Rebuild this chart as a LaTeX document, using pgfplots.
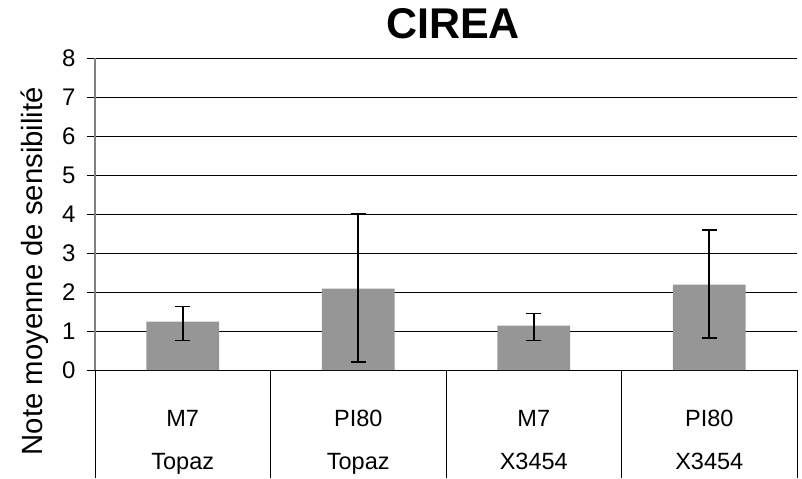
\documentclass[border=0pt]{standalone}
\usepackage{pgfplots}
\pgfplotsset{compat=1.18}
\usepackage{pgfplotstable}
\usepackage{fontspec}
\setmainfont{Liberation Sans}
\definecolor{bargray}{RGB}{150,150,150}
\pgfplotstableread{
x y ep em
0 1.24 0.39 0.48
1 2.09 1.91 1.89
2 1.14 0.31 0.38
3 2.19 1.40 1.37
}\datatable
\begin{document}
\begin{tikzpicture}
\begin{axis}[
  scale only axis,
  width=702pt, height=312pt,
  xmin=-0.5, xmax=3.5, ymin=0, ymax=8,
  ytick={0,...,8},
  /pgf/number format/assume math mode=true,
  ticklabel style={font=\fontsize{24}{28}\selectfont},
  yticklabel style={xshift=-8pt},
  ymajorgrids,
  grid style={black, line width=0.8pt},
  axis x line*=bottom, axis y line*=left,
  x axis line style={black, line width=1pt, -},
  y axis line style={gray, line width=1.2pt, -},
  ytick style={black, line width=0.8pt},
  tick align=outside,
  major tick length=8pt,
  xtick={0,1,2,3},
  xtick style={draw=none},
  xticklabels={{M7\\Topaz},{PI80\\Topaz},{M7\\X3454},{PI80\\X3454}},
  xticklabel style={align=center, font=\fontsize{23.5}{43}\selectfont, yshift=-29pt},
  extra x ticks={-0.5,0.5,1.5,2.5,3.5},
  extra x tick labels={},
  extra x tick style={xtick style={draw=black, line width=0.8pt}, major tick length=108pt, tick align=outside},
  title={\bfseries CIREA},
  title style={font=\fontsize{43}{48}\selectfont\bfseries, at={(axis description cs:0.51,1.09)}, anchor=center},
  ylabel={Note moyenne de sensibilité},
  ylabel style={font=\fontsize{29.3}{34}\selectfont, at={(axis description cs:-0.0855,0.317)}, anchor=center},
  clip=false,
]
\addplot[ybar, bar width=72.7pt, fill=bargray, draw=none,
  error bars/.cd, y dir=both, y explicit,
  error bar style={black, line width=1.6pt},
  error mark options={rotate=90, mark size=7.5pt, line width=1.6pt, black}]
  table[x=x, y=y, y error plus=ep, y error minus=em]{\datatable};
\coordinate (bbll) at (axis description cs:-0.1353,-0.3462);
\coordinate (bbur) at (axis description cs:1.0071,1.1859);
\end{axis}
\pgfresetboundingbox
\path (bbll) rectangle (bbur);
\end{tikzpicture}
\end{document}
